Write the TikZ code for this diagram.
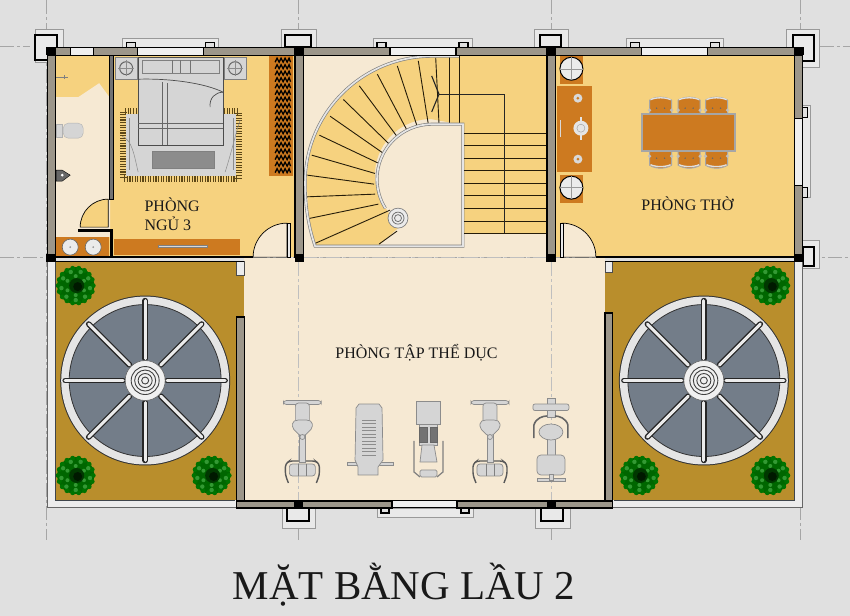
\documentclass[tikz,border=0pt]{standalone}
\usepackage{fontspec}
\setmainfont{Liberation Serif}
\definecolor{bgc}{HTML}{E0E0E0}
\definecolor{yel}{HTML}{F6D27F}
\definecolor{crm}{HTML}{F6E9D3}
\definecolor{org}{HTML}{CD7A20}
\definecolor{ter}{HTML}{B98E2C}
\definecolor{wal}{HTML}{9C968A}
\definecolor{rof}{HTML}{737D89}
\definecolor{mch}{HTML}{D5D5D5}
\tikzset{
  lbl/.style = {font=\fontsize{16}{19}\selectfont, text=black!90, inner sep=0pt},
  wall/.style = {fill=wal, draw=black, line width=1.2},
  glass/.style = {fill=bgc!50!white, draw=black, line width=1},
  frameout/.style = {fill=bgc!70!white, draw=black!40, line width=.8},
  frameinn/.style = {fill=bgc!70!white, draw=black, line width=1.5},
  furn/.style = {fill=mch, draw=black!50, line width=.6},
  mach/.style = {fill=mch, draw=black!45, line width=.7},
  grid/.style = {draw=black!35, line width=.5, dash pattern=on 14pt off 3pt on 3pt off 3pt}
}
\newcommand\ventdisc[1]{
  \begin{scope}[shift={(#1)}]
    \fill[black!80] (0,0) circle (85);
    \fill[black!10] (0,0) circle (84);
    \filldraw[fill=rof, draw=black!80, line width=.8] (0,0) circle (76);
    \foreach \ang in {0,45,...,315} {
      \draw[black!85, line width=5.5, line cap=round] (\ang:22) -- (\ang:80);
      \draw[black!8, line width=3, line cap=round] (\ang:22) -- (\ang:80);
    }
    \filldraw[fill=black!6, draw=black!60, line width=.6] (0,0) circle (20);
    \foreach \rad in {14,10.5,7,3.5}
      \draw[black!75, line width=.9] (0,0) circle (\rad);
  \end{scope}
}
\newcommand\treeplant[1]{
  \begin{scope}[shift={(#1)}]
    \fill[green!40!black] (0,0) circle (18.5);
    \foreach \ang in {0,20,...,340}
      \fill[green!45!black] (\ang:17.5) circle (2.5);
    \foreach \ang in {10,50,...,350}
      \fill[green!50!black!80!white] (\ang:14.5) circle (2.2);
    \foreach \ang in {30,90,...,330}
      \fill[green!50!black!80!white] (\ang:9.5) circle (2);
    \fill[green!22!black] (1,0) circle (7.5);
    \fill[green!10!black] (2,1) circle (4.5);
  \end{scope}
}
\newcommand\ellipmach[1]{
  \begin{scope}[shift={(#1,0)}]
    \draw[black!65, line width=1.4, rounded corners=3] (-14,483) -- (-17,475) -- (-17,464) -- (-13,461) -- (13,461) -- (17,464) -- (17,475) -- (14,483);
    \filldraw[mach, rounded corners=3] (-13,464) rectangle (13,476);
    \draw[black!50] (-4,464) -- (-4,476) (4,464) -- (4,476);
    \filldraw[mach] (-3,432) rectangle (3,462);
    \filldraw[mach, rounded corners=3] (-19,400.5) rectangle (19,404.5);
    \filldraw[mach, rounded corners=3] (-7,403) rectangle (7,428);
    \filldraw[mach, rounded corners=2] (-10,422) -- (-6,420) -- (6,420) -- (10,422) -- (10,428) -- (2,436) -- (-2,436) -- (-10,428) -- cycle;
    \filldraw[mach] (0,437) circle (2.5);
  \end{scope}
}
\begin{document}
\begin{tikzpicture}[x=1pt, y=-1pt]
    \fill[bgc] (0,0) rectangle (850,616);

    % axis lines
    \foreach \gx in {46,298,551,800}
        \draw[grid] (\gx,0) -- (\gx,540);
    \draw[grid] (0,257) -- (850,257);
    \draw[grid] (0,46) -- (30,46);
    \draw[grid] (820,46) -- (850,46);

    % pillar frames
    \draw[frameout] (35,29) rectangle (63,62);
    \draw[frameinn] (35,35) rectangle (57,60);
    \draw[frameout] (787,29) rectangle (820,67);
    \draw[frameinn] (793,35) rectangle (814,61);
    \draw[frameout] (803,240) rectangle (820,268);
    \draw[frameinn] (803,247) rectangle (814,266);
    \draw[frameout] (281,29) rectangle (316,47);
    \draw[frameinn] (285,35) rectangle (311,47);
    \draw[frameout] (534,29) rectangle (568,47);
    \draw[frameinn] (540,35) rectangle (561,47);
    \draw[frameout] (282,508) rectangle (315,528);
    \draw[frameinn] (287,508) rectangle (309,521);
    \draw[frameout] (535,508) rectangle (570,528);
    \draw[frameinn] (541,508) rectangle (563,521);

    % balconies above the windows
    \foreach \wa/\wb in {122/218,373/472,627/724} {
        \draw[frameout] (\wa,38) rectangle (\wb,47);
        \draw[black, line width=1.2, fill=bgc] (\wa+4,42) rectangle (\wa+13,47);
        \draw[black, line width=1.2, fill=bgc] (\wb-13,42) rectangle (\wb-4,47);
    }
    \draw[frameout] (377,508) rectangle (473,517);
    \draw[black, line width=1.2, fill=bgc] (381,508) rectangle (389,513);
    \draw[black, line width=1.2, fill=bgc] (461,508) rectangle (469,513);
    \draw[frameout] (803,105) rectangle (811,197);
    \draw[black, line width=1.2, fill=bgc] (803,107) rectangle (808,117);
    \draw[black, line width=1.2, fill=bgc] (803,187) rectangle (808,197);

    % floors
    \fill[yel] (55,55) rectangle (295,257);
    \fill[crm] (303,55) rectangle (547,257);
    \fill[yel] (555,55) rectangle (795,257);
    \fill[bgc!60!white] (47,261) rectangle (803,508);
    \fill[ter] (55,262) rectangle (795,500);
    \fill[crm] (244,258) rectangle (605,501);
    \draw[grid, draw=black!25] (303,257) -- (547,257);
    \foreach \gx in {298,551}
        \draw[grid, draw=black!25] (\gx,262) -- (\gx,500);

    % bath
    \fill[crm] (55,97) -- (78,97) -- (99,83) -- (110,98) -- (110,237) -- (55,237) -- cycle;
    \fill[org] (55,237) rectangle (109,256);
    \filldraw[fill=yel, draw=black, line width=.7] (108,227) -- (80,227) arc (180:270:28) -- cycle;
    \foreach \bx in {70,93} {
        \filldraw[fill=black!8, draw=black!60, line width=.6] (\bx,247) circle (8);
        \fill[black!40] (\bx,247) circle (1);
    }
    \filldraw[fill=mch, draw=black!30] (56,124) rectangle (62,137);
    \filldraw[fill=mch, draw=black!30, rounded corners=5] (63,123) rectangle (83,138);
    \filldraw[fill=black!60, draw=black] (56,170) -- (62,170) -- (70,175) -- (62,181) -- (56,181) -- cycle;
    \fill[white] (62,175) circle (1.5);
    \draw[black!50, line width=.5] (56,77) -- (68,77) (64,75) -- (64,79);

    % bedroom
    \draw[line width=7, dash pattern=on 1.1pt off 1.5pt, black!50!ter] (123.5,111.5) rectangle (238.5,178.5);
    \fill[mch] (126,114) rectangle (236,176);
    \filldraw[fill=black!45, draw=black!50] (152,151) rectangle (214,168);
    \draw[black!45, line width=.5] (129,118) -- (129,170) (233,118) -- (233,170);
    \draw[black!45, line width=.5] (122,136) .. controls (132,140) and (134,155) .. (138,172);
    \draw[black!45, line width=.5] (240,120) .. controls (235,135) and (232,150) .. (225,172);
    \foreach \sx in {115,224} {
        \filldraw[furn] (\sx,57) rectangle (\sx+22,79);
        \draw[black!60, line width=1] (\sx+11,68) circle (6.5);
        \draw[black!45, line width=.5] (\sx+3,68) -- (\sx+19,68) (\sx+11,60) -- (\sx+11,76);
    }
    \filldraw[furn, draw=black!70] (138,57) rectangle (223,145);
    \filldraw[furn] (142,60) rectangle (219,73);
    \draw[black!55, line width=.5] (180,60) -- (180,73) (172,60) -- (172,73) (190,60) -- (190,73);
    \draw[black!70, line width=.7] (138,79) .. controls (170,78) and (205,83) .. (223,92);
    \draw[black!70, line width=.7] (223,92) .. controls (215,92) and (209,98) .. (210,107);
    \draw[black!60, line width=.6] (162,82) -- (162,145) (167,83) -- (167,145);
    \draw[black!60, line width=.6] (138,123) -- (223,123) (138,128) -- (223,128);
    \fill[org] (269,56) rectangle (293,176);
    \foreach \zy in {60,66.5,...,173}
        \draw[black, line width=1.3] (275,\zy+2) -- (277,\zy-2) -- (279,\zy+2) -- (281,\zy-2) -- (283,\zy+2) -- (285,\zy-2) -- (287,\zy+2) -- (289,\zy-2) -- (290.5,\zy+2);
    \fill[org] (114,239) rectangle (240,255);
    \filldraw[fill=black!15, draw=black!50, line width=.5] (158,245) rectangle (207,247.5);

    % stair
    \fill[yel] (459,55) rectangle (547,124);
    \fill[yel] (463,124) rectangle (547,233);
    \path[fill=yel] (459,55) -- (432,55) arc (270:180:125) .. controls (307,205) and (309,225) .. (315,246) -- (378,246) -- (398,228) -- (385,207) arc (145:270:56) -- (459,124) -- cycle;
    \foreach \ax/\ay/\bx/\by in {459/124/459/56, 449/124/449/56, 439/123.3/435.7/57.3, 428.3/124/418.3/60.7, 417.3/126.7/397.3/65.7, 407.3/130.7/377.3/74, 397.3/136.7/359.3/85.7, 389.3/144/343.3/99.3, 382.7/152.7/330/116, 377.7/162.7/319.3/135, 375/173.3/311.7/155, 374/184/307.3/175, 375/194/306.7/196.7, 378.3/204/309.3/218.3, 390/210/315/243.3, 379/244/397/231}
        \draw[black!80!ter, line width=.9] (\ax,\ay) -- (\bx,\by);
    \draw[black!50, line width=3] (459,56) -- (432,56) arc (270:180:127) .. controls (305,205) and (308,225) .. (315,246) -- (463,246) -- (463,124) -- (432,124) arc (270:148:55);
    \draw[black!10, line width=1.7] (459,56) -- (432,56) arc (270:180:127) .. controls (305,205) and (308,225) .. (315,246) -- (463,246) -- (463,124) -- (432,124) arc (270:148:55);
    \foreach \sy in {133.3,145.7,158,170.7,183.3,195.7,208.7,221.3,233.3}
        \draw[black!80!ter, line width=.9] (464,\sy) -- (547,\sy);
    \draw[black!85, line width=.9] (439,94) -- (504.3,94) -- (504.3,233);
    \draw[black!85, line width=1.1] (431.7,75.7) -- (439,94) -- (431.7,111.7);
    \filldraw[fill=black!8, draw=black!50, line width=.7] (398,218) circle (10);
    \draw[black!55, line width=.8] (398,218) circle (6) (398,218) circle (3.5);

    % worship room
    \foreach \uy in {56,175} {
        \fill[org] (560,\uy) rectangle (583,\uy+28);
        \filldraw[fill=black!8, draw=black, line width=1] (571.5,\uy+12.5) circle (11.5);
        \draw[black!40, line width=.4] (560,\uy+12.5) -- (583,\uy+12.5) (571.5,\uy+1) -- (571.5,\uy+24);
    }
    \fill[org] (557,86) rectangle (592,172);
    \foreach \cy in {98,159} {
        \fill[white!85!black] (578,\cy) circle (4.5);
        \fill[org] (578,\cy) circle (1.5);
    }
    \fill[black!10] (581,128) circle (7.5);
    \fill[black!10] (580,116.5) rectangle (582,139.5);
    \draw[black!40] (581,128) circle (4);
    \fill[white!85!black] (560,120) rectangle (561,137);
    \foreach \tx in {660.7,689.3,716.7} {
        \filldraw[fill=org, draw=black!35, line width=1] (\tx-11,114) -- (\tx-11,100) .. controls (\tx-5,96) and (\tx+5,96) .. (\tx+11,100) -- (\tx+11,114);
        \draw[black!12, line width=1.3] (\tx-10,99.5) .. controls (\tx-5,97) and (\tx+5,97) .. (\tx+10,99.5);
        \filldraw[fill=org, draw=black!35, line width=1] (\tx-11,152) -- (\tx-11,165) .. controls (\tx-5,169) and (\tx+5,169) .. (\tx+11,165) -- (\tx+11,152);
        \draw[black!12, line width=1.3] (\tx-10,164.5) .. controls (\tx-5,167) and (\tx+5,167) .. (\tx+10,164.5);
        \foreach \dx in {-11,11} {
            \fill[black!25] (\tx+\dx,110) circle (1.8);
            \fill[black!25] (\tx+\dx,156) circle (1.8);
        }
        \foreach \dx in {-4,4} {
            \fill[black!60] (\tx+\dx,108) circle (.8);
            \fill[black!60] (\tx+\dx,158) circle (.8);
        }
    }
    \filldraw[fill=org, draw=black!35, line width=1.8] (642,114) rectangle (735,151);

    % door swings in the stair room and worship room
    \filldraw[fill=crm, draw=black, line width=.7] (287,257) -- (253,257) arc (180:270:34) -- cycle;
    \filldraw[fill=crm, draw=black, line width=.7] (562,257) -- (596,257) arc (0:-90:34) -- cycle;
    \filldraw[fill=bgc!70!white, draw=black, line width=1] (287,223) rectangle (290,257);
    \filldraw[fill=bgc!70!white, draw=black, line width=1] (561,223) rectangle (564,257);
    \filldraw[fill=black!55, draw=black, line width=1.2] (109,55) rectangle (113,199);
    \filldraw[fill=black, draw=black, line width=.5] (78,229.5) rectangle (112,231.5);
    \fill[black] (110,229) rectangle (113,257);

    % terraces
    \ventdisc{145,380.5}
    \ventdisc{704,380.5}
    \treeplant{75.5,285.5}
    \treeplant{75.5,475.5}
    \treeplant{211.5,475.5}
    \treeplant{770.5,285.5}
    \treeplant{639.5,475.5}
    \treeplant{770.5,475.5}

    % gym machines
    \ellipmach{302.3}
    \ellipmach{490}
    \filldraw[mach] (347,462.5) rectangle (393,465.5);
    \filldraw[mach] (359,404) -- (379,404) -- (382,408) -- (383,460) -- (378,467) -- (378,475) -- (358,475) -- (358,467) -- (355,460) -- (356,408) -- cycle;
    \foreach \ty in {420,423.5,...,458}
        \draw[black!45, line width=.5] (362,\ty) -- (376,\ty);
    \filldraw[mach] (416,401) rectangle (440,424);
    \filldraw[mach] (419,424) rectangle (437,445);
    \filldraw[fill=black!55, draw=black!60] (419,427) rectangle (427,442);
    \filldraw[fill=black!55, draw=black!60] (430,427) rectangle (437,442);
    \draw[black!50, line width=1.2] (414,441) -- (414,472) -- (420,477);
    \draw[black!50, line width=1.2] (443,441) -- (443,472) -- (437,477);
    \filldraw[mach] (422,445) -- (434,445) -- (437,462) -- (420,462) -- cycle;
    \filldraw[mach, rounded corners=1.5] (420,470) rectangle (437,477);
    \begin{scope}[shift={(551,0)}]
        \filldraw[mach] (-4,398) rectangle (4,417);
        \filldraw[mach, rounded corners=2] (-18,404) rectangle (18,410.5);
        \draw[black!60, line width=1.6] (-17,438) -- (-17,425) .. controls (-15,418) and (-8,416) .. (-4,416);
        \draw[black!60, line width=1.6] (17,438) -- (17,425) .. controls (15,418) and (8,416) .. (4,416);
        \filldraw[mach] (-4,438) rectangle (4,458);
        \filldraw[mach] (0,432) ellipse (12 and 8);
        \filldraw[mach, rounded corners=4] (-14,455) rectangle (14,475);
        \filldraw[mach] (-14,478) rectangle (14,481);
        \filldraw[mach] (-2,474) rectangle (2,480);
    \end{scope}

    % walls
    \foreach \pa/\pb in {55/70, 93/137, 203/295, 303/390, 456/547, 555/642, 708/795}
        \draw[wall] (\pa,47) rectangle (\pb,55);
    \foreach \pa/\pb in {70/93, 137/203, 390/456, 642/708}
        \draw[glass] (\pa,47) rectangle (\pb,55);
    \foreach \pa in {47,295,547}
        \draw[wall] (\pa,55) rectangle (\pa+8.5,257);
    \draw[wall] (795,55) rectangle (803,118);
    \draw[glass] (795,118) rectangle (803,185);
    \draw[wall] (795,185) rectangle (803,257);
    \draw[wall] (236,317) rectangle (244,508);
    \draw[wall] (605,313) rectangle (613,508);
    \draw[wall] (236,501) rectangle (392,508);
    \draw[wall] (457,501) rectangle (613,508);
    \draw[glass] (392,501) rectangle (457,508);
    \filldraw[fill=bgc!60!white, draw=black!70, line width=.8] (236,261) rectangle (244,275);
    \filldraw[fill=bgc!60!white, draw=black!70, line width=.8] (605,261) rectangle (613,272);
    \draw[black, line width=1.8] (47,257) -- (253,257);
    \draw[black, line width=1.2] (47,261) -- (244,261);
    \draw[black, line width=1.8] (596,257) -- (803,257);
    \draw[black, line width=1.2] (605,261) -- (795,261);
    \draw[black!60, line width=1] (47,261) -- (47,508) -- (236,508);
    \draw[black!60, line width=1] (803,261) -- (803,508) -- (613,508);
    \draw[black!45!rof, line width=.8] (55,262) -- (55,500) -- (235,500);
    \draw[black!45!rof, line width=.8] (795,262) -- (795,500) -- (614,500);
    \foreach \jx/\jy in {46/46.5, 294.5/46.5, 546.5/46.5, 794.5/46.5, 46/253.5, 294.5/253.5, 546.5/253.5, 794.5/253.5, 293.5/500.5, 547/500.5}
        \fill[black] (\jx,\jy) rectangle (\jx+9.5,\jy+8);

    % labels
    \node[lbl, align=left] (bedname) at (172,214) {PHÒNG\\NGỦ 3};
    \node[lbl] (altarname) at (687.5,204) {PHÒNG THỜ};
    \node[lbl] (gymname) at (416.5,353) {PHÒNG TẬP THỂ DỤC};
    \node[inner sep=0pt, font=\fontsize{41}{46}\selectfont, text=black!90] (title) at (404,585) {MẶT BẰNG LẦU 2};
\end{tikzpicture}
\end{document}
